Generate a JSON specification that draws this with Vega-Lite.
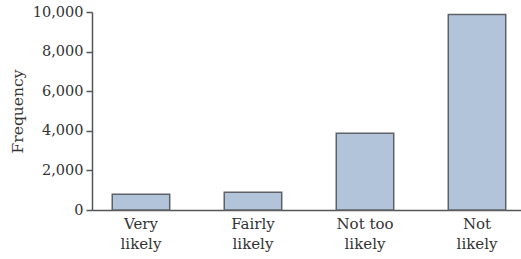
{
  "$schema": "https://vega.github.io/schema/vega-lite/v6.json",
  "width": 429,
  "height": 198,
  "autosize": {"type": "none"},
  "padding": {"left": 92, "top": 12, "right": 0, "bottom": 49},
  "background": "white",
  "config": {
    "view": {"stroke": null},
    "font": "DejaVu Serif"
  },
  "data": {
    "values": [
      {"response": "Very likely", "frequency": 800},
      {"response": "Fairly likely", "frequency": 900},
      {"response": "Not too likely", "frequency": 3880},
      {"response": "Not likely", "frequency": 9880}
    ]
  },
  "mark": {"type": "bar", "color": "#b2c4da", "stroke": "#5f6166", "strokeWidth": 1.5},
  "encoding": {
    "x": {
      "field": "response",
      "type": "nominal",
      "sort": null,
      "scale": {"paddingInner": 0.487, "paddingOuter": 0.1585, "align": 0.57},
      "axis": {
        "title": null,
        "ticks": false,
        "labelAngle": 0,
        "labelFont": "DejaVu Serif",
        "labelFontSize": 15,
        "labelColor": "#333333",
        "labelLineHeight": 20,
        "labelPadding": 6,
        "domainColor": "#555555",
        "domainWidth": 1.5,
        "labelExpr": "datum.value == 'Not too likely' ? ['Not too', 'likely'] : split(datum.value, ' ')"
      }
    },
    "y": {
      "field": "frequency",
      "type": "quantitative",
      "scale": {"domain": [0, 10000], "nice": false},
      "axis": {
        "title": "Frequency",
        "titleFont": "DejaVu Serif",
        "titleFontSize": 15.5,
        "titleFontWeight": "normal",
        "titleColor": "#333333",
        "titlePadding": 7,
        "values": [0, 2000, 4000, 6000, 8000, 10000],
        "format": ",d",
        "grid": false,
        "labelFont": "DejaVu Serif",
        "labelFontSize": 14.5,
        "labelColor": "#333333",
        "labelPadding": 3,
        "tickSize": 6,
        "tickColor": "#555555",
        "tickWidth": 1.5,
        "domainColor": "#555555",
        "domainWidth": 1.5
      }
    }
  }
}
